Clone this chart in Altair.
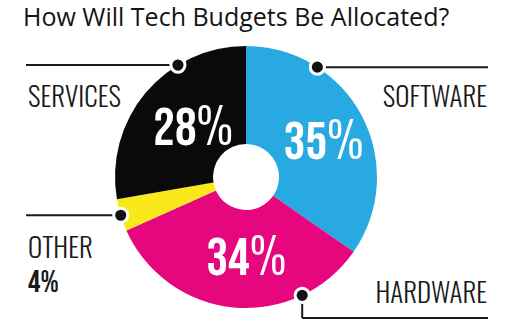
import math
import altair as alt
import pandas as pd

# ---- data ----
categories = ["SOFTWARE", "HARDWARE", "OTHER", "SERVICES"]
shares = [35, 34, 4, 28]
show_inside = [True, True, False, True]
colors = ["#29A9E1", "#E6077F", "#F8E81C", "#0A0A0A"]
title_text = "How Will Tech Budgets Be Allocated?"

# ---- layout (pixels) ----
W, H = 520, 325
CX, CY = 246, 177
R_OUT, R_IN, R_LABEL = 131, 33, 79
LABEL_FONT = "Oswald, 'Roboto Condensed', sans-serif"
NUM_FONT = "'Bebas Neue', Oswald, sans-serif"

# callout: dot angle (deg clockwise from 12 o'clock), label anchor, align
callout = {
    "SOFTWARE": dict(angle=33.0, lx=487, ly=107, align="right", line_to=488),
    "HARDWARE": dict(angle=154.6, lx=487, ly=303, align="right", line_to=488, drop=318),
    "OTHER": dict(angle=253.0, lx=28, ly=258, align="left", line_to=26),
    "SERVICES": dict(angle=328.7, lx=28, ly=107, align="left", line_to=26),
}

pie_df = pd.DataFrame({
    "category": categories,
    "share": shares,
    "order": list(range(len(categories))),
    "num": [str(v) if s else "" for v, s in zip(shares, show_inside)],
    "pct": ["%" if s else "" for s in show_inside],
})

dots, segs, left_labels, right_labels, value_labels = [], [], [], [], []
for cat, v, s in zip(categories, shares, show_inside):
    c = callout[cat]
    a = math.radians(c["angle"])
    dx = CX + R_OUT * math.sin(a)
    dy = CY - R_OUT * math.cos(a)
    dots.append({"x": dx, "y": dy})
    if "drop" in c:
        segs.append({"x": dx, "x2": dx, "y": dy, "y2": c["drop"]})
        segs.append({"x": dx, "x2": c["line_to"], "y": c["drop"], "y2": c["drop"]})
    else:
        segs.append({"x": dx, "x2": c["line_to"], "y": dy, "y2": dy})
    row = {"text": cat, "x": c["lx"], "y": c["ly"]}
    (left_labels if c["align"] == "left" else right_labels).append(row)
    if not s:
        value_labels.append({"text": f"{v}%", "x": c["lx"], "y": c["ly"] + 34})

px = dict(scale=None, axis=None)

base = alt.Chart(pie_df).encode(
    theta=alt.Theta("share:Q", stack=True),
    order=alt.Order("order:Q"),
)
arcs = base.mark_arc(outerRadius=R_OUT, innerRadius=R_IN).encode(
    color=alt.Color("category:N", scale=alt.Scale(domain=categories, range=colors), legend=None),
    x=alt.value(CX), y=alt.value(CY),
)
inner_num = base.mark_text(
    radius=R_LABEL, font=NUM_FONT, fontSize=54, color="white",
    align="right", baseline="alphabetic", dx=11, dy=19,
).encode(text="num:N", x=alt.value(CX), y=alt.value(CY))
inner_pct = base.mark_text(
    radius=R_LABEL, font=LABEL_FONT, fontSize=50, fontWeight=300, color="white",
    align="left", baseline="alphabetic", dx=11, dy=19,
).encode(text="pct:N", x=alt.value(CX), y=alt.value(CY))

lines = alt.Chart(pd.DataFrame(segs)).mark_rule(color="#1a1a1a", strokeWidth=2).encode(
    x=alt.X("x:Q", **px), x2="x2:Q", y=alt.Y("y:Q", **px), y2="y2:Q"
)
dot_layer = alt.Chart(pd.DataFrame(dots)).mark_point(
    filled=True, fill="#111111", stroke="white", strokeWidth=3, size=200, opacity=1
).encode(x=alt.X("x:Q", **px), y=alt.Y("y:Q", **px))

lab_left = alt.Chart(pd.DataFrame(left_labels)).mark_text(
    font=LABEL_FONT, fontSize=27, fontWeight=300, color="#1a1a1a", align="left", baseline="alphabetic"
).encode(text="text:N", x=alt.X("x:Q", **px), y=alt.Y("y:Q", **px))
lab_right = alt.Chart(pd.DataFrame(right_labels)).mark_text(
    font=LABEL_FONT, fontSize=27, fontWeight=300, color="#1a1a1a", align="right", baseline="alphabetic"
).encode(text="text:N", x=alt.X("x:Q", **px), y=alt.Y("y:Q", **px))
val_lab = alt.Chart(pd.DataFrame(value_labels)).mark_text(
    font=NUM_FONT, fontSize=31, color="#1a1a1a", align="left", baseline="alphabetic"
).encode(text="text:N", x=alt.X("x:Q", **px), y=alt.Y("y:Q", **px))

title = alt.Chart(pd.DataFrame({"t": [title_text]})).mark_text(
    font="Open Sans", fontSize=25, fontWeight=500, color="#151515", align="left", baseline="alphabetic"
).encode(text="t:N", x=alt.value(23), y=alt.value(26))

chart = alt.layer(arcs, inner_num, inner_pct, lines, dot_layer, lab_left, lab_right, val_lab, title).properties(
    width=W, height=H, autosize=alt.AutoSizeParams(type="none"), padding=0,
    background="white",
).configure_view(stroke=None)

chart.save("out.html", embed_options={"renderer": "svg", "actions": False})
